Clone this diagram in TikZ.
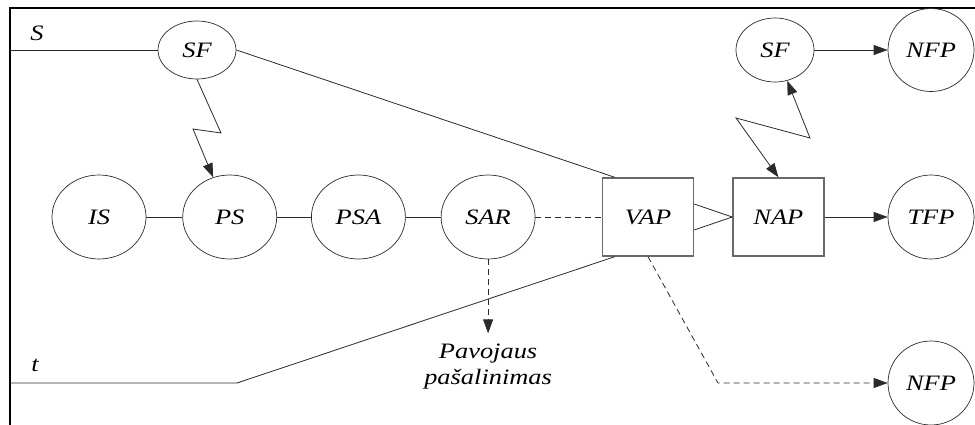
\documentclass[tikz,border=0pt]{standalone}
\usepackage{fontspec}
\setmainfont{Liberation Serif}[FakeStretch=1.2]
\usepackage{tikz}
\usetikzlibrary{shapes.geometric,arrows.meta,positioning}
\definecolor{edge}{HTML}{2A2A2A}
\definecolor{boxline}{HTML}{6A6A6A}

\begin{document}
\begin{tikzpicture}[x=1pt,y=-1pt,font=\fontsize{22}{26}\selectfont\itshape,
  el/.style={ellipse,draw=edge,line width=0.7pt,inner sep=0pt,
             minimum width=94pt,minimum height=84pt},
  bx/.style={draw=boxline,line width=1.4pt,minimum width=91pt,minimum height=78pt},
  ln/.style={draw=edge,line width=0.8pt},
  dsh/.style={ln,dash pattern=on 6pt off 4pt},
  ar/.style={ln,-{Triangle[length=14pt,width=10pt]}}]
\useasboundingbox (0,0) rectangle (975,425);
% frame
\draw[line width=2pt] (10,425) -- (10,8) -- (975,8);
% top row
\node[el,minimum width=78pt,minimum height=58pt] (sf1) at (197,50) {SF};
\node[el,minimum width=78pt,minimum height=64pt] (sf2) at (775,50) {SF};
\node[el,minimum width=86pt,minimum height=83pt] (nfp1) at (931,50) {NFP};
% middle row
\node[el] (is) at (99,217) {IS};
\node[el,right=36pt of is] (ps) {PS};
\node[el,right=34pt of ps] (psa) {PSA};
\node[el,right=35pt of psa] (sar) {SAR};
\node[bx] (vap) at (648,217) {VAP};
\node[bx,right=38pt of vap] (nap) {NAP};
\node[el,minimum width=86pt] (tfp) at (931,217) {TFP};
% bottom
\node[el,minimum width=86pt] (nfp2) at (931,383) {NFP};
\node[align=center,inner sep=0pt,below=10pt of sar.south,yshift=-74pt] (pav) {Pavojaus\\pašalinimas};
\node (slab) at (37,33) {S};
\node (tlab) at (35,365) {t};
\coordinate (s0) at (10,50);
\coordinate (t0) at (10,383);
\coordinate (t1) at (237,383);
\coordinate (p1) at ([yshift=-74pt]sar.south);
\coordinate (d1) at (718,383);
\coordinate (z1) at (221,133);
\coordinate (z2) at (193,129);
\coordinate (z3) at (736,118);
\coordinate (z4) at (810,138);
% connectors
\foreach \x/\y in {is/ps,ps/psa,psa/sar} \draw[ln] (\x)--(\y);
\draw[ln] (s0) -- (sf1);
\draw[ln] (sf1.east) -- ([xshift=13pt]vap.north west);
\draw[ln] (t0) -- (t1) -- ([xshift=13pt]vap.south west);
\draw[ar] (sf1.south) -- (z1) -- (z2) -- (ps);
\draw[ln,{Triangle[length=14pt,width=10pt]}-{Triangle[length=14pt,width=10pt]}]
  (nap.north) -- (z3) -- (z4) -- (sf2);
\draw[ar] (sf2) -- (nfp1);
\draw[ar] (nap) -- (tfp);
\draw[ln] ([yshift=13pt]vap.east) -- (nap.west) -- ([yshift=-13pt]vap.east);
\draw[dsh] (sar) -- (vap);
\draw[dsh,ar] (sar.south) -- (p1);
\draw[dsh,ar] (vap.south) -- (d1) -- (nfp2);
\end{tikzpicture}
\end{document}
